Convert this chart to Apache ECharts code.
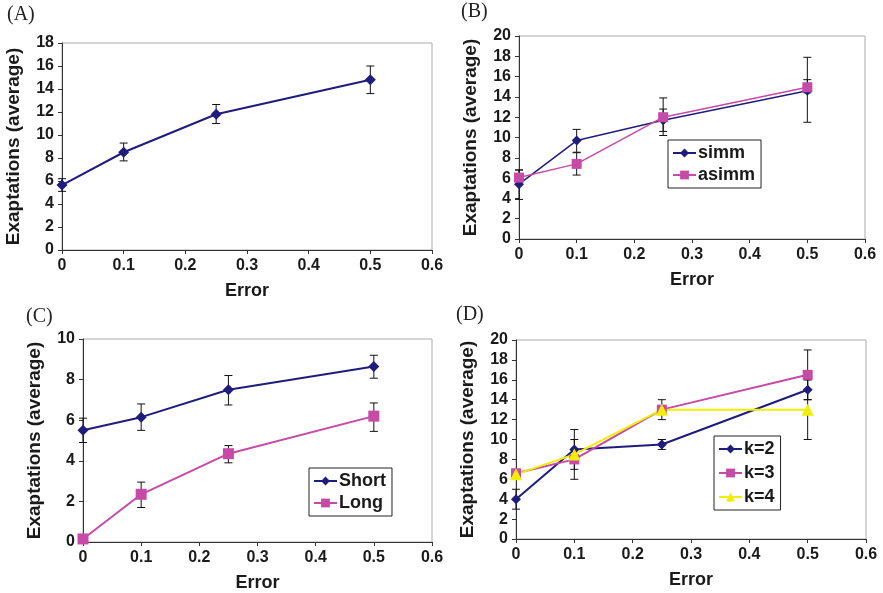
<!DOCTYPE html>
<html>
<head>
<meta charset="utf-8">
<script src="https://cdn.jsdelivr.net/npm/echarts@6/dist/echarts.min.js"></script>
<style>
  html, body { margin: 0; padding: 0; background: #fff; }
  #show { width: 883px; height: 593px; }
</style>
</head>
<body>
<div id="show"></div>
<script>
// x positions (error rate)
var errors = [0, 0.1, 0.25, 0.5];

// panel A
var aMean = [5.65, 8.5, 11.8, 14.8];
var aLow  = [5.1, 7.75, 11.0, 13.6];
var aHigh = [6.2, 9.3, 12.65, 16.0];

// panel B
var simmMean  = [5.4, 9.7, 11.7, 14.6];
var simmLow   = [3.9, 8.55, 10.6, 11.5];
var simmHigh  = [6.8, 10.8, 12.8, 17.9];
var asimmMean = [6.05, 7.4, 12.0, 14.95];
var asimmLow  = [5.4, 6.3, 10.2, 14.4];
var asimmHigh = [6.8, 8.5, 13.9, 15.7];

// panel C
var shortMean = [5.5, 6.15, 7.5, 8.65];
var shortLow  = [4.9, 5.5, 6.75, 8.07];
var shortHigh = [6.1, 6.8, 8.2, 9.2];
var longMean  = [0.15, 2.35, 4.35, 6.2];
var longLow   = [0.15, 1.7, 3.9, 5.45];
var longHigh  = [0.15, 2.95, 4.75, 6.85];

// panel D
var k2Mean = [4, 9, 9.5, 15];
var k2Low  = [3, 7, 9, 14];
var k2High = [5, 11, 10, 16];
var k3Mean = [6.6, 8, 13, 16.5];
var k3Low  = [6.2, 6, 12, 14];
var k3High = [7, 10, 14, 19];
var k4Mean = [6.5, 8.5, 13, 13];
var k4Low  = [6.3, 8, 12.8, 10];
var k4High = [6.7, 9, 13.2, 16];

var navy = '#1f1c7c';
var pink = '#c64aa6';
var yellow = '#f2ee00';
var font = 'Liberation Sans, Arial, sans-serif';

var myChart = echarts.init(document.getElementById('show'));

function pts(mean) {
    return errors.map(function (x, i) { return [x, mean[i]]; });
}
function bars(low, high) {
    return errors.map(function (x, i) { return [x, low[i], high[i]]; });
}

function errorBar(idx, low, high) {
    return {
        type: 'custom',
        xAxisIndex: idx,
        yAxisIndex: idx,
        silent: true,
        z: 1,
        data: bars(low, high),
        renderItem: function (params, api) {
            var lo = api.coord([api.value(0), api.value(1)]);
            var hi = api.coord([api.value(0), api.value(2)]);
            var w = 4;
            var st = { stroke: '#111', lineWidth: 1 };
            return {
                type: 'group',
                children: [
                    { type: 'line', shape: { x1: lo[0], y1: lo[1], x2: hi[0], y2: hi[1] }, style: st },
                    { type: 'line', shape: { x1: lo[0] - w, y1: lo[1], x2: lo[0] + w, y2: lo[1] }, style: st },
                    { type: 'line', shape: { x1: hi[0] - w, y1: hi[1], x2: hi[0] + w, y2: hi[1] }, style: st }
                ]
            };
        }
    };
}

function line(idx, name, mean, color, symbol, size, width) {
    return {
        type: 'line',
        name: name,
        xAxisIndex: idx,
        yAxisIndex: idx,
        data: pts(mean),
        symbol: symbol,
        symbolSize: size,
        z: 3,
        lineStyle: { color: color, width: width },
        itemStyle: { color: color }
    };
}

var grids = [
    { left: 62, top: 43, width: 370, height: 207 },
    { left: 519, top: 36, width: 346, height: 203 },
    { left: 83, top: 339, width: 349, height: 203 },
    { left: 516, top: 340, width: 350, height: 199 }
];
var yMax = [18, 20, 10, 20];

var xAxes = [], yAxes = [];
grids.forEach(function (g, i) {
    g.show = true;
    g.borderColor = '#aaa';
    g.borderWidth = 1;
    g.backgroundColor = '#fff';
    xAxes.push({
        gridIndex: i, type: 'value', min: 0, max: 0.6, interval: 0.1,
        name: 'Error', nameLocation: 'middle', nameGap: 32,
        nameTextStyle: { fontFamily: font, fontWeight: 'bold', fontSize: 18, color: '#1a1a1a' },
        axisLine: { lineStyle: { color: '#333' } },
        axisTick: { show: true, length: 4, lineStyle: { color: '#333' } },
        splitLine: { show: false },
        axisLabel: {
            fontFamily: font, fontWeight: 'bold', fontSize: 16, color: '#1a1a1a', margin: 8,
            formatter: function (v) { return v === 0 ? '0' : v.toFixed(1); }
        }
    });
    yAxes.push({
        gridIndex: i, type: 'value', min: 0, max: yMax[i], interval: 2,
        name: 'Exaptations (average)', nameLocation: 'middle', nameGap: 39,
        nameTextStyle: { fontFamily: font, fontWeight: 'bold', fontSize: 19, color: '#1a1a1a' },
        axisLine: { show: true, lineStyle: { color: '#333' } },
        axisTick: { show: true, length: 4, lineStyle: { color: '#333' } },
        splitLine: { show: false },
        axisLabel: { fontFamily: font, fontWeight: 'bold', fontSize: 16, color: '#1a1a1a', margin: 8 }
    });
});

var legendBase = {
    orient: 'vertical',
    backgroundColor: '#fff',
    borderColor: '#222',
    borderWidth: 1,
    borderRadius: 0,
    itemWidth: 23,
    itemHeight: 11,
    itemGap: 5,
    padding: [4, 6, 4, 4],
    textStyle: { fontFamily: font, fontWeight: 'bold', fontSize: 18, color: '#1a1a1a', padding: [0, 0, 0, -3] }
};
function legend(data, left, top, gap) {
    return Object.assign({}, legendBase, { data: data, left: left, top: top, itemGap: gap });
}

var option = {
    animation: false,
    backgroundColor: '#fff',
    title: [
        { text: '(A)', left: 7, top: 5 },
        { text: '(B)', left: 461, top: 2 },
        { text: '(C)', left: 26, top: 307 },
        { text: '(D)', left: 456, top: 305 }
    ].map(function (t) {
        t.textStyle = { fontFamily: 'Liberation Serif, Times New Roman, serif', fontWeight: 'normal', fontSize: 20, color: '#222' };
        t.padding = 0;
        return t;
    }),
    grid: grids,
    xAxis: xAxes,
    yAxis: yAxes,
    legend: [
        legend(['simm', 'asimm'], 668, 140, 4),
        legend(['Short', 'Long'], 309, 468, 4),
        legend(['k=2', 'k=3', 'k=4'], 714, 436, 6)
    ],
    series: [
        errorBar(0, aLow, aHigh),
        line(0, 'A', aMean, navy, 'diamond', 11, 2),

        errorBar(1, simmLow, simmHigh),
        errorBar(1, asimmLow, asimmHigh),
        line(1, 'simm', simmMean, navy, 'diamond', 10, 1.5),
        line(1, 'asimm', asimmMean, pink, 'rect', 10, 1.5),

        errorBar(2, shortLow, shortHigh),
        errorBar(2, longLow, longHigh),
        line(2, 'Short', shortMean, navy, 'diamond', 11, 2),
        line(2, 'Long', longMean, pink, 'rect', 11, 2),

        errorBar(3, k2Low, k2High),
        errorBar(3, k3Low, k3High),
        errorBar(3, k4Low, k4High),
        line(3, 'k=2', k2Mean, navy, 'diamond', 10, 2),
        line(3, 'k=3', k3Mean, pink, 'rect', 10, 2),
        line(3, 'k=4', k4Mean, yellow, 'triangle', 12, 2)
    ]
};
myChart.setOption(option);
</script>
</body>
</html>
